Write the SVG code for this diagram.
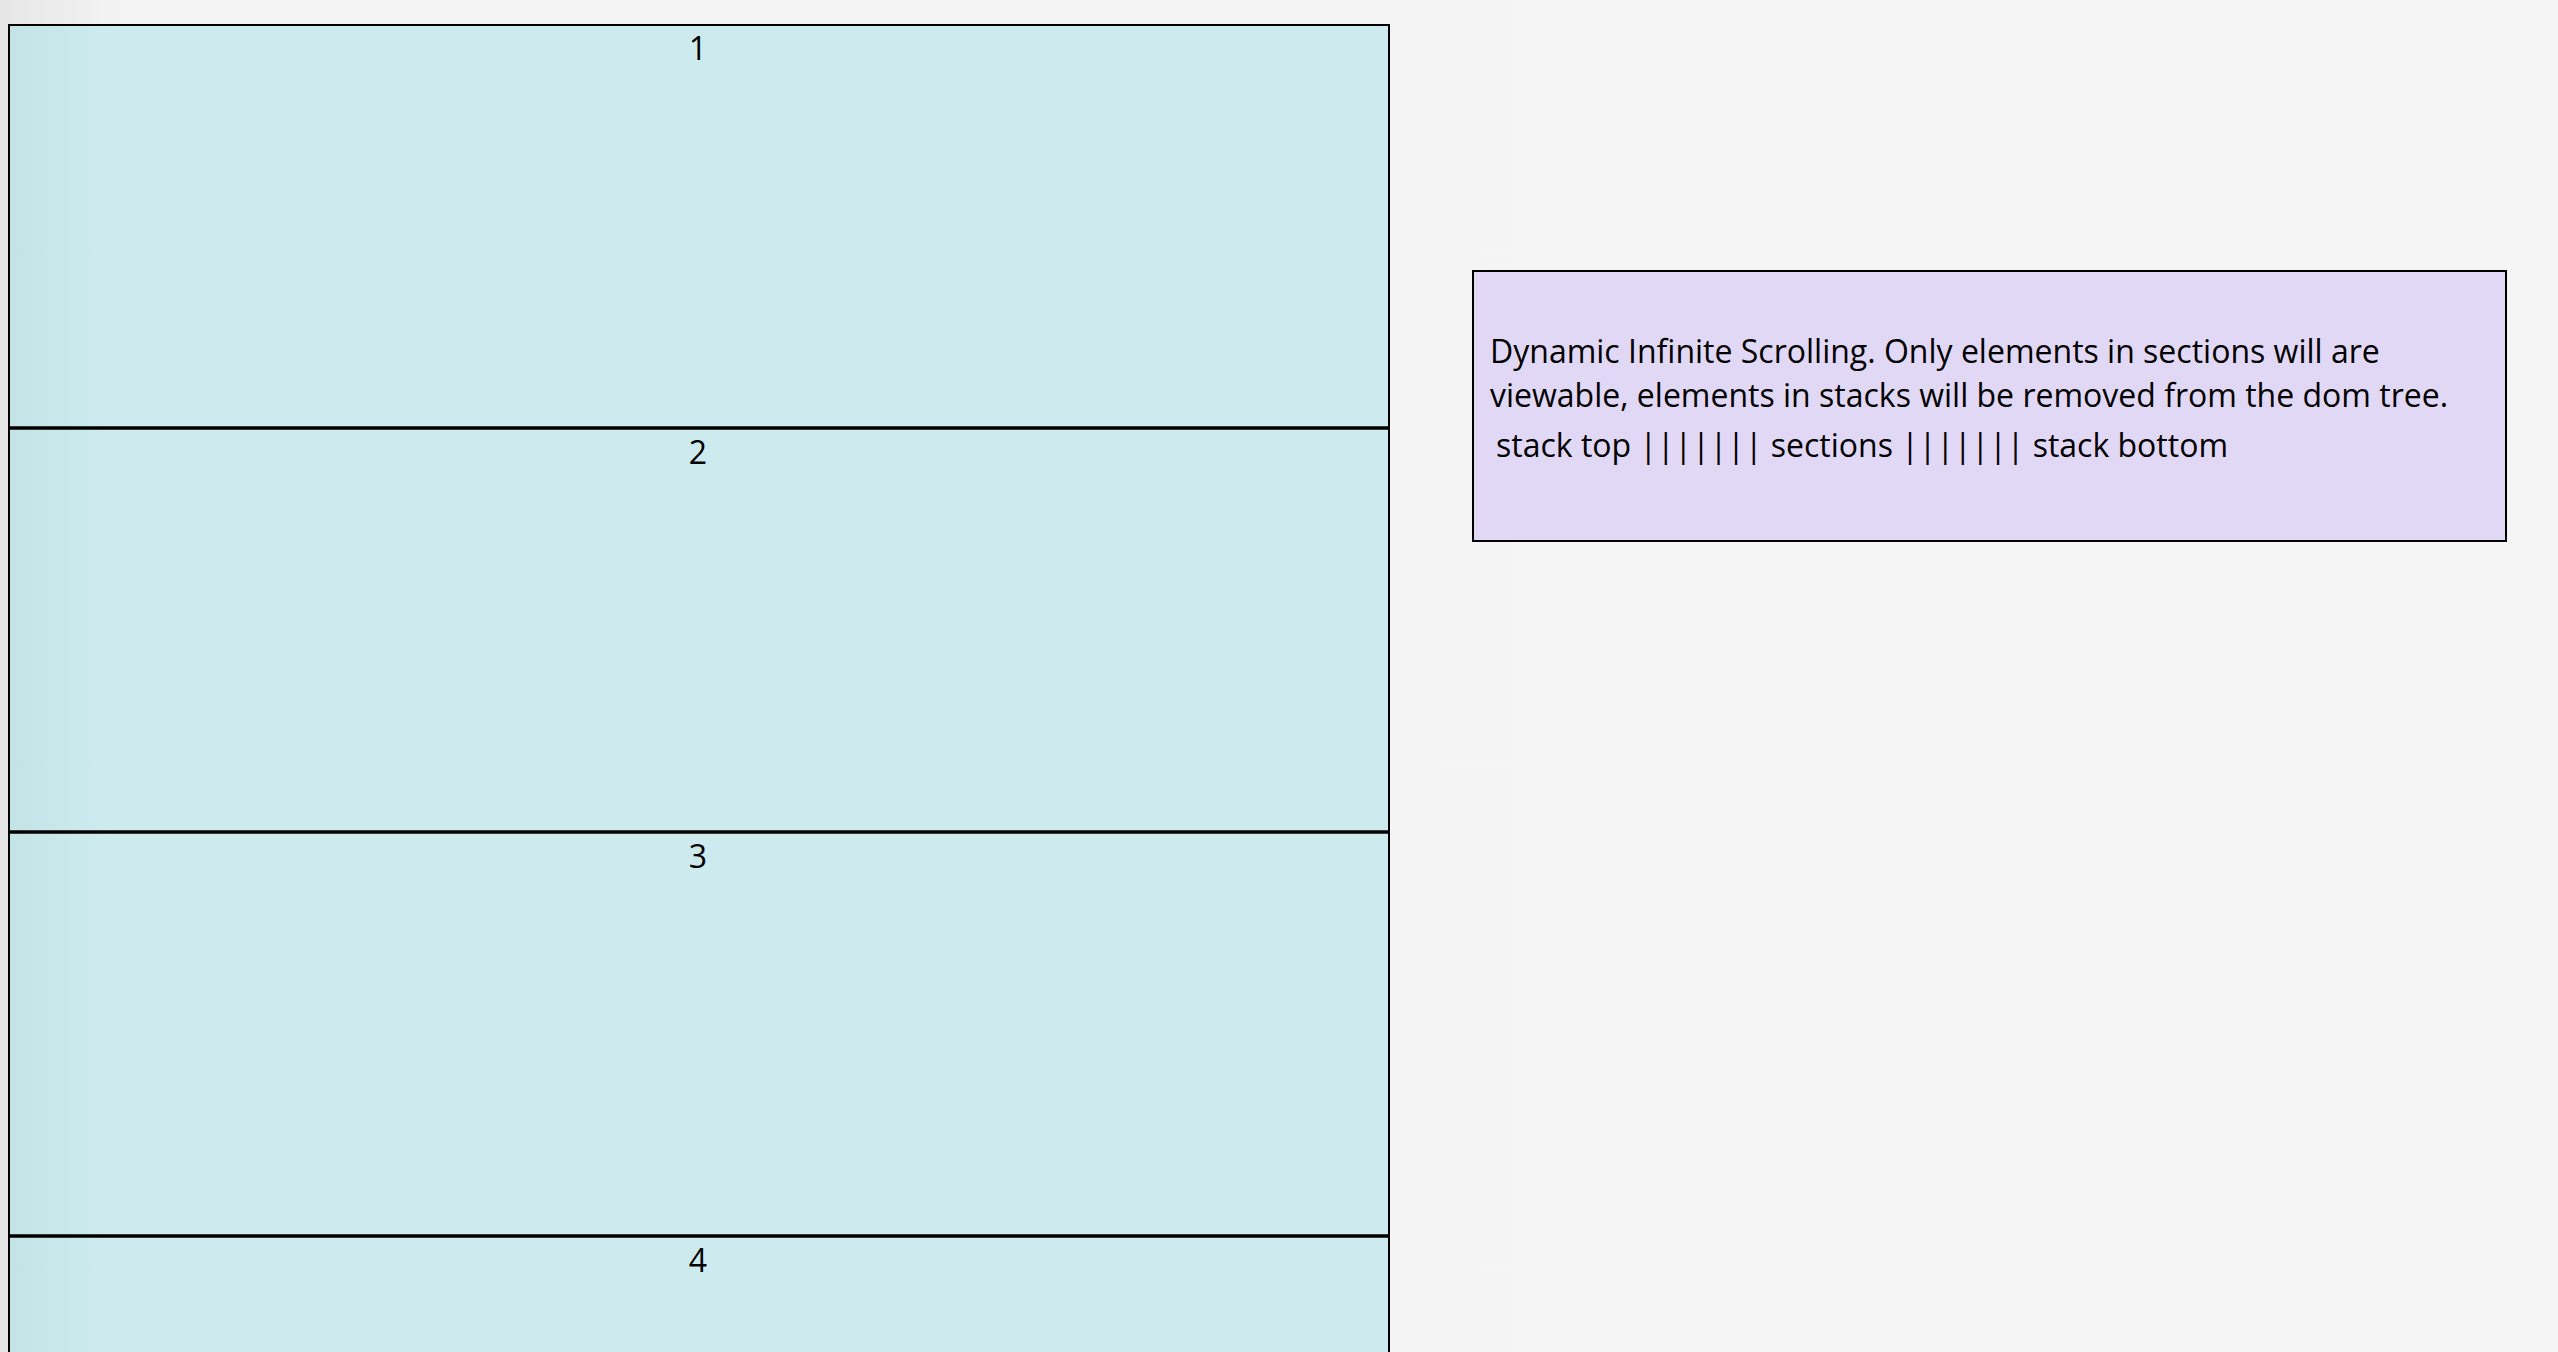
<svg xmlns="http://www.w3.org/2000/svg" width="2558" height="1352" viewBox="0 0 2558 1352">
<defs>
<linearGradient id="bg" x1="0" y1="0" x2="1" y2="0">
<stop offset="0" stop-color="#e6e6e6"/>
<stop offset="0.05" stop-color="#f4f4f4"/>
<stop offset="1" stop-color="#f5f5f5"/>
</linearGradient>
<linearGradient id="sec" x1="0" y1="0" x2="1" y2="0">
<stop offset="0" stop-color="#c3e3e6"/>
<stop offset="0.07" stop-color="#cdebee"/>
<stop offset="1" stop-color="#cdebee"/>
</linearGradient>
<style>
.sec{fill:url(#sec);stroke:#000;stroke-width:2}
.div{stroke:#000;stroke-width:3.5}
.num{font-family:"Open Sans","Liberation Sans",sans-serif;font-size:32px;fill:#000;text-anchor:middle}
.note{fill:#e1d8f5;stroke:#000;stroke-width:2}
.txt{font-family:"Open Sans","Liberation Sans",sans-serif;font-size:32px;fill:#000}
</style>
</defs>
<rect x="0" y="0" width="2558" height="1352" fill="url(#bg)"/>
<g id="section-1"><rect class="sec" x="9" y="25" width="1380" height="403"/><text class="num" x="698" y="60">1</text></g>
<g id="section-2"><rect class="sec" x="9" y="428" width="1380" height="404"/><line class="div" x1="9" y1="428" x2="1389" y2="428"/><text class="num" x="698" y="464">2</text></g>
<g id="section-3"><rect class="sec" x="9" y="832" width="1380" height="404"/><line class="div" x1="9" y1="832" x2="1389" y2="832"/><text class="num" x="698" y="868">3</text></g>
<g id="section-4"><rect class="sec" x="9" y="1236" width="1380" height="404"/><line class="div" x1="9" y1="1236" x2="1389" y2="1236"/><text class="num" x="698" y="1272">4</text></g>
<g id="note">
<rect class="note" x="1473" y="271" width="1033" height="270"/>
<text class="txt" x="1490" y="363">Dynamic Infinite Scrolling. Only elements in sections will are</text>
<text class="txt" x="1490" y="407">viewable, elements in stacks will be removed from the dom tree.</text>
<text class="txt" x="1496" y="457">stack top ||||||| sections ||||||| stack bottom</text>
</g>
<g id="connectors"/>
</svg>
